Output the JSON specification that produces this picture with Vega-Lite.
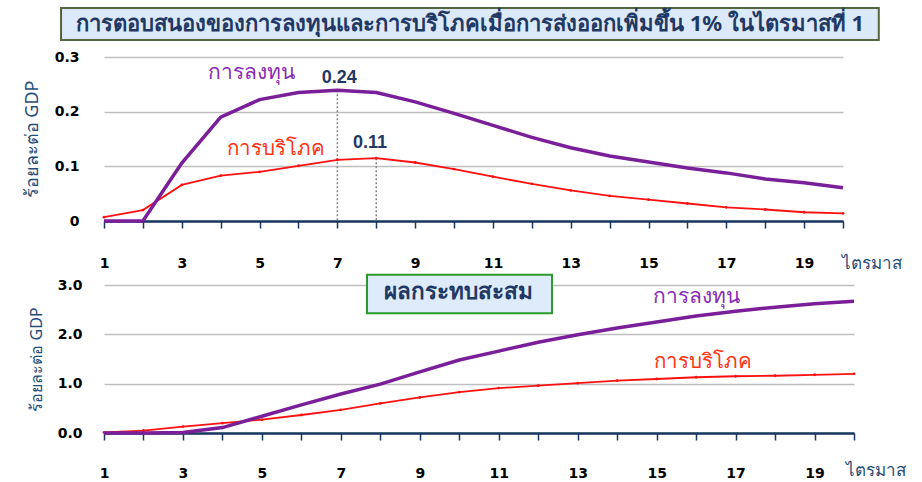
{
  "$schema": "https://vega.github.io/schema/vega-lite/v6.json",
  "padding": {"left": 23, "top": 7, "right": 5, "bottom": 0},
  "background": "white",
  "spacing": 2,
  "config": {"view": {"stroke": null}, "font": "DejaVu Sans"},
  "datasets": {
    "qoq": [
      {"q": 1, "s": "inv", "v": 0}, {"q": 2, "s": "inv", "v": 0}, {"q": 3, "s": "inv", "v": 0.106}, {"q": 4, "s": "inv", "v": 0.19},
      {"q": 5, "s": "inv", "v": 0.222}, {"q": 6, "s": "inv", "v": 0.235}, {"q": 7, "s": "inv", "v": 0.239}, {"q": 8, "s": "inv", "v": 0.235},
      {"q": 9, "s": "inv", "v": 0.218}, {"q": 10, "s": "inv", "v": 0.197}, {"q": 11, "s": "inv", "v": 0.175}, {"q": 12, "s": "inv", "v": 0.153},
      {"q": 13, "s": "inv", "v": 0.134}, {"q": 14, "s": "inv", "v": 0.119}, {"q": 15, "s": "inv", "v": 0.108}, {"q": 16, "s": "inv", "v": 0.097},
      {"q": 17, "s": "inv", "v": 0.088}, {"q": 18, "s": "inv", "v": 0.077}, {"q": 19, "s": "inv", "v": 0.07}, {"q": 20, "s": "inv", "v": 0.061},
      {"q": 1, "s": "cons", "v": 0.007}, {"q": 2, "s": "cons", "v": 0.02}, {"q": 3, "s": "cons", "v": 0.066}, {"q": 4, "s": "cons", "v": 0.083},
      {"q": 5, "s": "cons", "v": 0.09}, {"q": 6, "s": "cons", "v": 0.101}, {"q": 7, "s": "cons", "v": 0.112}, {"q": 8, "s": "cons", "v": 0.115},
      {"q": 9, "s": "cons", "v": 0.107}, {"q": 10, "s": "cons", "v": 0.095}, {"q": 11, "s": "cons", "v": 0.081}, {"q": 12, "s": "cons", "v": 0.068},
      {"q": 13, "s": "cons", "v": 0.056}, {"q": 14, "s": "cons", "v": 0.046}, {"q": 15, "s": "cons", "v": 0.039}, {"q": 16, "s": "cons", "v": 0.032},
      {"q": 17, "s": "cons", "v": 0.025}, {"q": 18, "s": "cons", "v": 0.021}, {"q": 19, "s": "cons", "v": 0.016}, {"q": 20, "s": "cons", "v": 0.014}
    ],
    "cum": [
      {"q": 1, "s": "inv", "v": 0}, {"q": 2, "s": "inv", "v": 0}, {"q": 3, "s": "inv", "v": 0.01}, {"q": 4, "s": "inv", "v": 0.11},
      {"q": 5, "s": "inv", "v": 0.34}, {"q": 6, "s": "inv", "v": 0.57}, {"q": 7, "s": "inv", "v": 0.79}, {"q": 8, "s": "inv", "v": 0.99},
      {"q": 9, "s": "inv", "v": 1.24}, {"q": 10, "s": "inv", "v": 1.48}, {"q": 11, "s": "inv", "v": 1.66}, {"q": 12, "s": "inv", "v": 1.84},
      {"q": 13, "s": "inv", "v": 1.99}, {"q": 14, "s": "inv", "v": 2.13}, {"q": 15, "s": "inv", "v": 2.25}, {"q": 16, "s": "inv", "v": 2.37},
      {"q": 17, "s": "inv", "v": 2.47}, {"q": 18, "s": "inv", "v": 2.55}, {"q": 19, "s": "inv", "v": 2.62}, {"q": 20, "s": "inv", "v": 2.67},
      {"q": 1, "s": "cons", "v": 0.01}, {"q": 2, "s": "cons", "v": 0.05}, {"q": 3, "s": "cons", "v": 0.13}, {"q": 4, "s": "cons", "v": 0.2},
      {"q": 5, "s": "cons", "v": 0.27}, {"q": 6, "s": "cons", "v": 0.365}, {"q": 7, "s": "cons", "v": 0.47}, {"q": 8, "s": "cons", "v": 0.6},
      {"q": 9, "s": "cons", "v": 0.72}, {"q": 10, "s": "cons", "v": 0.83}, {"q": 11, "s": "cons", "v": 0.91}, {"q": 12, "s": "cons", "v": 0.96},
      {"q": 13, "s": "cons", "v": 1.01}, {"q": 14, "s": "cons", "v": 1.06}, {"q": 15, "s": "cons", "v": 1.095}, {"q": 16, "s": "cons", "v": 1.13},
      {"q": 17, "s": "cons", "v": 1.15}, {"q": 18, "s": "cons", "v": 1.16}, {"q": 19, "s": "cons", "v": 1.18}, {"q": 20, "s": "cons", "v": 1.2}
    ]
  },
  "vconcat": [
    {
      "width": 739,
      "height": 164,
      "encoding": {
        "x": {
          "field": "q", "type": "quantitative",
          "scale": {"domain": [1, 20], "nice": false, "zero": false},
          "axis": {
            "values": [1,2,3,4,5,6,7,8,9,10,11,12,13,14,15,16,17,18,19,20],
            "labelExpr": "datum.value % 2 == 1 ? datum.label : ''",
            "labelFlush": false, "labelFont": "DejaVu Sans", "labelFontSize": 14, "labelFontWeight": "bold", "labelColor": "#000000",
            "labelPadding": 28, "tickSize": 7, "tickColor": "#17375E", "tickWidth": 1.5,
            "domainColor": "#17375E", "domainWidth": 2.5, "grid": false,
            "title": "ไตรมาส", "titleX": 737, "titleY": 42, "titleAlign": "left", "titleBaseline": "middle",
            "titleFont": "Noto Sans, DejaVu Sans, sans-serif", "titleFontSize": 17, "titleFontWeight": "normal", "titleColor": "#1F4E79"
          }
        },
        "y": {
          "field": "v", "type": "quantitative",
          "scale": {"domain": [0, 0.3], "nice": false, "zero": false},
          "axis": {
            "values": [0, 0.1, 0.2, 0.3],
            "labelExpr": "datum.value == 0 ? '0' : format(datum.value, '.1f')",
            "labelFont": "DejaVu Sans", "labelFontSize": 14, "labelFontWeight": "bold", "labelColor": "#000000",
            "labelPadding": 25, "ticks": false, "tickSize": 0, "domain": false,
            "grid": true, "gridColor": "#BEBEBE", "gridWidth": 1.5,
            "minExtent": 52, "maxExtent": 52,
            "title": "ร้อยละต่อ GDP", "titleFont": "Noto Sans, DejaVu Sans, sans-serif", "titleFontSize": 18, "titleFontWeight": "normal",
            "titleColor": "#1F4E79", "titlePadding": 11
          }
        }
      },
      "layer": [
        {
          "data": {"values": [{"q": -0.105, "q2": 20.92, "v": 0.3311, "v2": 0.3896}]},
          "mark": {"type": "rect", "fill": "#DCE9F8", "stroke": "#55663F", "strokeWidth": 2},
          "encoding": {"x2": {"field": "q2"}, "y2": {"field": "v2"}}
        },
        {
          "data": {"values": [{"q": 10.41, "v": 0.3604, "label": "การตอบสนองของการลงทุนและการบริโภคเมื่อการส่งออกเพิ่มขึ้น 1% ในไตรมาสที่ 1"}]},
          "mark": {"type": "text", "font": "Noto Sans, DejaVu Sans, sans-serif", "fontSize": 22, "fontWeight": "bold", "color": "#1F3864", "align": "center", "baseline": "middle"},
          "encoding": {"text": {"field": "label"}}
        },
        {
          "data": {"values": [{"q": 7, "v": 0.239}, {"q": 8, "v": 0.115}]},
          "mark": {"type": "rule", "color": "#808080", "strokeWidth": 1.5, "strokeDash": [2, 2]},
          "encoding": {"y2": {"datum": 0}}
        },
        {
          "data": {"name": "qoq"},
          "transform": [{"filter": "datum.s == 'cons'"}],
          "mark": {"type": "line", "color": "#FF1010", "strokeWidth": 1.8, "point": {"filled": true, "size": 8, "color": "#FF1010"}},
          "encoding": {}
        },
        {
          "data": {"name": "qoq"},
          "transform": [{"filter": "datum.s == 'inv'"}],
          "mark": {"type": "line", "color": "#7A1E99", "strokeWidth": 3.5},
          "encoding": {}
        },
        {
          "data": {"values": [{"q": 4.79, "v": 0.2707, "label": "การลงทุน"}]},
          "mark": {"type": "text", "font": "Noto Sans, DejaVu Sans, sans-serif", "fontSize": 21, "color": "#8A2BB5", "align": "center", "baseline": "middle"},
          "encoding": {"text": {"field": "label"}}
        },
        {
          "data": {"values": [{"q": 5.43, "v": 0.1326, "label": "การบริโภค"}]},
          "mark": {"type": "text", "font": "Noto Sans, DejaVu Sans, sans-serif", "fontSize": 20.5, "color": "#FF3311", "align": "center", "baseline": "middle"},
          "encoding": {"text": {"field": "label"}}
        },
        {
          "data": {"values": [{"q": 7.05, "v": 0.261, "label": "0.24"}, {"q": 7.84, "v": 0.1432, "label": "0.11"}]},
          "mark": {"type": "text", "font": "Liberation Sans", "fontSize": 18, "fontWeight": "bold", "color": "#1F3864", "align": "center", "baseline": "middle"},
          "encoding": {"text": {"field": "label"}}
        }
      ]
    },
    {
      "width": 750,
      "height": 148,
      "encoding": {
        "x": {
          "field": "q", "type": "quantitative",
          "scale": {"domain": [1, 20], "nice": false, "zero": false},
          "axis": {
            "values": [1,2,3,4,5,6,7,8,9,10,11,12,13,14,15,16,17,18,19,20],
            "labelExpr": "datum.value % 2 == 1 ? datum.label : ''",
            "labelFlush": false, "labelFont": "DejaVu Sans", "labelFontSize": 14, "labelFontWeight": "bold", "labelColor": "#000000",
            "labelPadding": 26, "tickSize": 7, "tickColor": "#17375E", "tickWidth": 1.5,
            "domainColor": "#17375E", "domainWidth": 2.5, "grid": false,
            "title": "ไตรมาส", "titleX": 741, "titleY": 37, "titleAlign": "left", "titleBaseline": "middle",
            "titleFont": "Noto Sans, DejaVu Sans, sans-serif", "titleFontSize": 17, "titleFontWeight": "normal", "titleColor": "#1F4E79"
          }
        },
        "y": {
          "field": "v", "type": "quantitative",
          "scale": {"domain": [0, 3], "nice": false, "zero": false},
          "axis": {
            "values": [0, 1, 2, 3],
            "format": ".1f",
            "labelFont": "DejaVu Sans", "labelFontSize": 14, "labelFontWeight": "bold", "labelColor": "#000000",
            "labelPadding": 22, "ticks": false, "tickSize": 0, "domain": false,
            "grid": true, "gridColor": "#BEBEBE", "gridWidth": 1.5,
            "minExtent": 45, "maxExtent": 45,
            "title": "ร้อยละต่อ GDP", "titleFont": "Noto Sans, DejaVu Sans, sans-serif", "titleFontSize": 16, "titleFontWeight": "normal",
            "titleColor": "#1F4E79", "titlePadding": 15
          }
        }
      },
      "layer": [
        {
          "data": {"name": "cum"},
          "transform": [{"filter": "datum.s == 'cons'"}],
          "mark": {"type": "line", "color": "#FF1010", "strokeWidth": 1.8, "point": {"filled": true, "size": 8, "color": "#FF1010"}},
          "encoding": {}
        },
        {
          "data": {"name": "cum"},
          "transform": [{"filter": "datum.s == 'inv'"}],
          "mark": {"type": "line", "color": "#7A1E99", "strokeWidth": 3.5},
          "encoding": {}
        },
        {
          "data": {"values": [{"q": 7.663, "q2": 12.35, "v": 2.426, "v2": 3.209}]},
          "mark": {"type": "rect", "fill": "#DDEBFB", "stroke": "#2A9A2A", "strokeWidth": 2},
          "encoding": {"x2": {"field": "q2"}, "y2": {"field": "v2"}}
        },
        {
          "data": {"values": [{"q": 9.99, "v": 2.85, "label": "ผลกระทบสะสม"}]},
          "mark": {"type": "text", "font": "Noto Sans, DejaVu Sans, sans-serif", "fontSize": 22.5, "fontWeight": "bold", "color": "#1F3864", "align": "center", "baseline": "middle"},
          "encoding": {"text": {"field": "label"}}
        },
        {
          "data": {"values": [{"q": 16.02, "v": 2.757, "label": "การลงทุน"}]},
          "mark": {"type": "text", "font": "Noto Sans, DejaVu Sans, sans-serif", "fontSize": 21, "color": "#8A2BB5", "align": "center", "baseline": "middle"},
          "encoding": {"text": {"field": "label"}}
        },
        {
          "data": {"values": [{"q": 16.18, "v": 1.449, "label": "การบริโภค"}]},
          "mark": {"type": "text", "font": "Noto Sans, DejaVu Sans, sans-serif", "fontSize": 20.5, "color": "#FF3311", "align": "center", "baseline": "middle"},
          "encoding": {"text": {"field": "label"}}
        }
      ]
    }
  ]
}
